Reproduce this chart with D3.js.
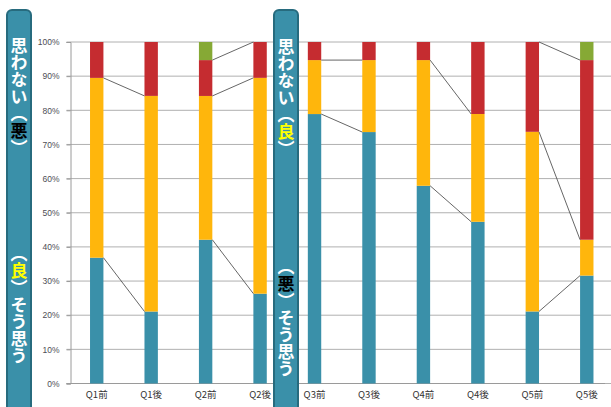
<!DOCTYPE html>
<html>
<head>
<meta charset="utf-8">
<script src="https://cdn.jsdelivr.net/npm/d3@7"></script>
<style>
  body { margin: 0; background: #ffffff; }
  svg { display: block; }
</style>
</head>
<body>
<svg id="chart"></svg>
<script>
// values (percent of answers, bottom -> top)
const categories = ["Q1前", "Q1後", "Q2前", "Q2後", "Q3前", "Q3後", "Q4前", "Q4後", "Q5前", "Q5後"]
const tealValues = [36.8, 21.1, 42.1, 26.3, 78.9, 73.7, 57.9, 47.4, 21.1, 31.6]
const orangeValues = [52.6, 63.2, 42.1, 63.2, 15.8, 21.1, 36.8, 31.6, 52.6, 10.5]
const redValues = [10.5, 15.8, 10.5, 10.5, 5.3, 5.3, 5.3, 21.1, 26.3, 52.6]
const greenValues = [0, 0, 5.3, 0, 0, 0, 0, 0, 0, 5.3]
const yTicks = [0, 0.1, 0.2, 0.3, 0.4, 0.5, 0.6, 0.7, 0.8, 0.9, 1]

const width = 611, height = 407
const margin = { top: 42, bottom: 23.5, left: 70.5, right: 0 }

const keys = ["teal", "orange", "red", "green"]
const colors = { teal: "#3a90a9", orange: "#ffb60c", red: "#c52c30", green: "#86a935" }

const table = categories.map((c, i) => ({
    cat: c,
    teal: tealValues[i],
    orange: orangeValues[i],
    red: redValues[i],
    green: greenValues[i],
}))

const stacked = d3.stack().keys(keys).offset(d3.stackOffsetExpand)(table)

const svg = d3.select("svg#chart")
    .attr("width", width)
    .attr("height", height)
    .attr("viewBox", [0, 0, width, height])

const xScale = d3.scaleBand()
    .domain(categories)
    .range([69.5, 614])
    .paddingInner(0.754)
    .paddingOuter(0.377)

const yScale = d3.scaleLinear()
    .domain([0, 1])
    .range([height - margin.bottom, margin.top])

// gridlines
svg.append("g")
    .selectAll("line")
    .data(yTicks)
    .join("line")
    .attr("x1", margin.left - 4)
    .attr("x2", width)
    .attr("y1", d => yScale(d))
    .attr("y2", d => yScale(d))
    .attr("stroke", "#b0b0b0")
    .attr("stroke-width", 1)

// y axis
const yAxis = svg.append("g")
    .attr("transform", `translate(${margin.left}, 0)`)
    .call(d3.axisLeft(yScale).tickValues(yTicks).tickFormat(d3.format(".0%")).tickSize(4).tickPadding(7))
yAxis.select(".domain").attr("stroke", "#9a9a9a")
yAxis.selectAll(".tick line").attr("stroke", "#9a9a9a")
yAxis.selectAll(".tick text")
    .attr("fill", "#4d4d55")
    .style("font-family", "'Liberation Sans', Arial, sans-serif")
    .style("font-size", "8.5px")

// x axis
const xAxis = svg.append("g")
    .attr("transform", `translate(0, ${height - margin.bottom})`)
    .call(d3.axisBottom(xScale).tickSize(0).tickPadding(8))
xAxis.select(".domain")
    .attr("d", `M${margin.left - 4},0H605`)
    .attr("stroke", "#9a9a9a")
xAxis.selectAll(".tick text")
    .attr("fill", "#333")
    .style("font-family", "'Noto Sans CJK JP', sans-serif")
    .style("font-size", "9.5px")

// stacked bars
svg.append("g")
    .selectAll("g.series")
    .data(stacked)
    .join("g").attr("class", "series")
    .attr("fill", d => colors[d.key])
    .selectAll("rect")
    .data(d => d)
    .join("rect")
    .attr("x", d => xScale(d.data.cat))
    .attr("width", xScale.bandwidth())
    .attr("y", d => yScale(d[1]))
    .attr("height", d => yScale(d[0]) - yScale(d[1]))

// series lines between the before / after bar of each question
// (the ones lying on the 100% gridline are hidden by it in the original)
const pairs = d3.range(0, categories.length, 2)
const links = []
stacked.forEach(s => {
    pairs.forEach(i => {
        if (s[i][1] > 0.999 && s[i + 1][1] > 0.999) return
        links.push({ a: s[i], b: s[i + 1], i })
    })
})

svg.append("g")
    .selectAll("line")
    .data(links)
    .join("line")
    .attr("x1", d => xScale(categories[d.i]) + xScale.bandwidth())
    .attr("x2", d => xScale(categories[d.i + 1]))
    .attr("y1", d => yScale(d.a[1]))
    .attr("y2", d => yScale(d.b[1]))
    .attr("stroke", "#555")
    .attr("stroke-width", 0.9)

// vertical label panels
const panels = [
    { x: 7, top: ["思わない（", { t: "悪", c: "#000" }, "）"], topY: 37, bottom: ["（", { t: "良", c: "#ffff00" }, "）そう思う"], bottomY: 245 },
    { x: 274, top: ["思わない（", { t: "良", c: "#ffff00" }, "）"], topY: 38, bottom: ["（", { t: "悪", c: "#000" }, "）そう思う"], bottomY: 258 },
]

panels.forEach(p => {
    const g = svg.append("g")
    g.append("rect")
        .attr("x", p.x)
        .attr("y", 10)
        .attr("width", 24)
        .attr("height", 420)
        .attr("rx", 5)
        .attr("fill", "#3a90a9")
        .attr("stroke", "#276b7e")
        .attr("stroke-width", 2)

    ;[[p.top, p.topY], [p.bottom, p.bottomY]].forEach(([parts, y]) => {
        const t = g.append("text")
            .attr("x", p.x + 12)
            .attr("y", y)
            .style("writing-mode", "vertical-rl")
            .style("font-family", "'Noto Sans CJK JP', sans-serif")
            .style("font-size", "17px")
            .style("font-weight", "bold")
            .attr("fill", "#ffffff")
        parts.forEach(part => {
            if (typeof part === "string") t.append("tspan").text(part)
            else t.append("tspan").attr("fill", part.c).text(part.t)
        })
    })
})
</script>
</body>
</html>
